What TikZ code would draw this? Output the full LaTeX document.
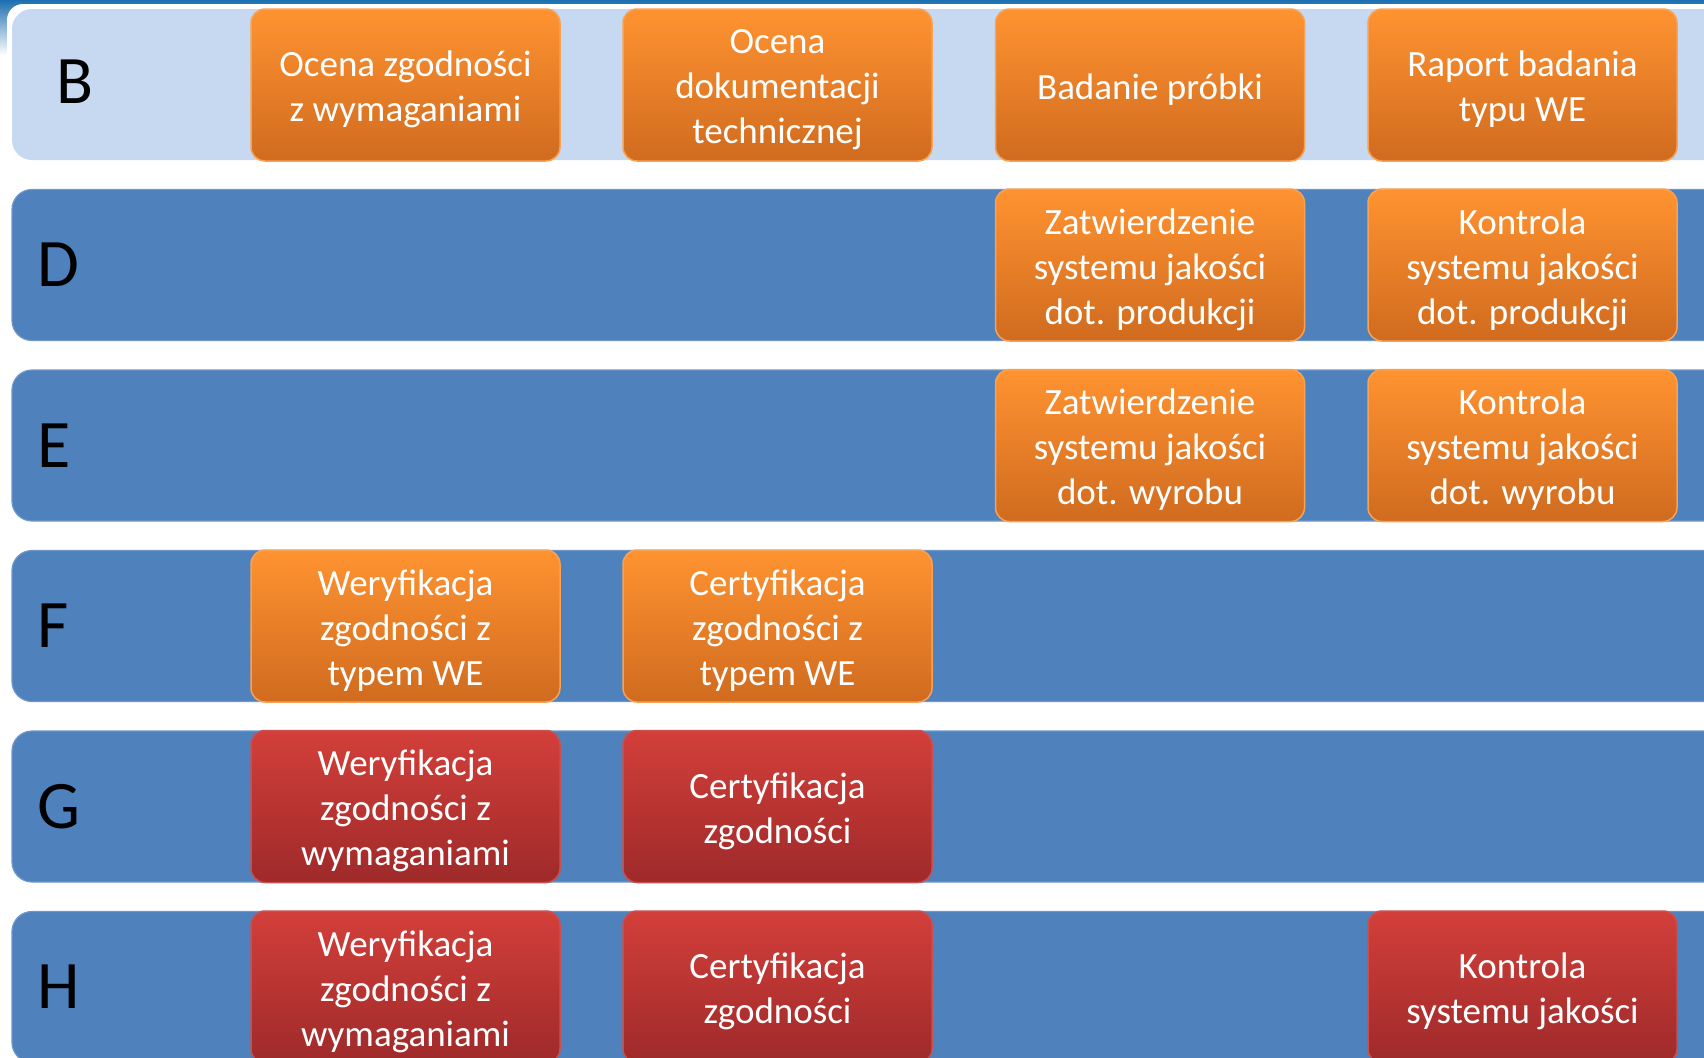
\documentclass[tikz,border=0pt]{standalone}
\usepackage{fontspec}
\setmainfont{Carlito}
\usetikzlibrary{shadings}
\definecolor{rowlight}{HTML}{C6D9F0}
\definecolor{rowblue}{HTML}{4F81BD}
\definecolor{rowedge}{HTML}{6F97C8}
\definecolor{otop}{HTML}{FF9331}
\definecolor{obot}{HTML}{D06B1F}
\definecolor{oedge}{HTML}{F7A254}
\definecolor{rtop}{HTML}{D33F3A}
\definecolor{rbot}{HTML}{9E2A2A}
\definecolor{redge}{HTML}{C9504C}
\definecolor{topblue}{HTML}{1C6FB0}
\newcommand{\boxfont}{\fontsize{18.5pt}{22.5pt}\selectfont}
\newcommand{\letterfont}{\fontsize{34pt}{40pt}\selectfont}
\begin{document}
\begin{tikzpicture}[x=0.5pt,y=-0.5pt,
  rowbox/.style={fill=rowblue, draw=rowedge, line width=0.6pt, rounded corners=10pt},
  tbox/.style={rounded corners=7pt, minimum width=154.5pt, minimum height=76pt,
    line width=0.75pt, inner sep=0pt},
  obox/.style={tbox, top color=otop, bottom color=obot, draw=oedge},
  rbox/.style={tbox, top color=rtop, bottom color=rbot, draw=redge},
  boxtext/.style={align=center, text=white, font=\boxfont, inner sep=0pt, yshift=-2.3pt},
  letter/.style={font=\letterfont, text=black, inner sep=0pt, anchor=west}]
\useasboundingbox (0,0) rectangle (1704,1057);
% header decoration
\shade[top color=topblue, bottom color=white] (0,0) rectangle (1704,55);
\fill[white, rounded corners=8pt] (7,4) rectangle (1730,1080);
% rows
\fill[rowlight, rounded corners=10pt] (12,9) rectangle (1725,160);
\foreach \t in {189.5,370,550.5,731,911.5}
  \draw[rowbox] (12,\t) rectangle (1725,\t+151);
% row letters
\node[letter] (lB) at (56,82) {B};
\node[letter] (lD) at (37,265) {D};
\node[letter] (lE) at (37,445.5) {E};
\node[letter] (lF) at (37,626) {F};
\node[letter] (lG) at (37,806.5) {G};
\node[letter] (lH) at (37,987) {H};
% row B
\node[obox] (b1) at (405.5,85) {};
\node[boxtext] (b1t) at (b1.center) {Ocena zgodności\\z wymaganiami};
\node[obox] (b2) at (777.5,85) {};
\node[boxtext] (b2t) at (b2.center) {Ocena\\dokumentacji\\technicznej};
\node[obox] (b3) at (1150,85) {};
\node[boxtext] (b3t) at (b3.center) {Badanie próbki};
\node[obox] (b4) at (1522.5,85) {};
\node[boxtext] (b4t) at (b4.center) {Raport badania\\typu WE};
% row D
\node[obox] (d3) at (1150,265) {};
\node[boxtext] (d3t) at (d3.center) {Zatwierdzenie\\systemu jakości\\dot. produkcji};
\node[obox] (d4) at (1522.5,265) {};
\node[boxtext] (d4t) at (d4.center) {Kontrola\\systemu jakości\\dot. produkcji};
% row E
\node[obox] (e3) at (1150,445.5) {};
\node[boxtext] (e3t) at (e3.center) {Zatwierdzenie\\systemu jakości\\dot. wyrobu};
\node[obox] (e4) at (1522.5,445.5) {};
\node[boxtext] (e4t) at (e4.center) {Kontrola\\systemu jakości\\dot. wyrobu};
% row F
\node[obox] (f1) at (405.5,626) {};
\node[boxtext] (f1t) at (f1.center) {Weryfikacja\\zgodności z\\typem WE};
\node[obox] (f2) at (777.5,626) {};
\node[boxtext] (f2t) at (f2.center) {Certyfikacja\\zgodności z\\typem WE};
% row G
\node[rbox] (g1) at (405.5,806.5) {};
\node[boxtext] (g1t) at (g1.center) {Weryfikacja\\zgodności z\\wymaganiami};
\node[rbox] (g2) at (777.5,806.5) {};
\node[boxtext] (g2t) at (g2.center) {Certyfikacja\\zgodności};
% row H
\node[rbox] (h1) at (405.5,987) {};
\node[boxtext] (h1t) at (h1.center) {Weryfikacja\\zgodności z\\wymaganiami};
\node[rbox] (h2) at (777.5,987) {};
\node[boxtext] (h2t) at (h2.center) {Certyfikacja\\zgodności};
\node[rbox] (h4) at (1522.5,987) {};
\node[boxtext] (h4t) at (h4.center) {Kontrola\\systemu jakości};
\end{tikzpicture}
\end{document}
